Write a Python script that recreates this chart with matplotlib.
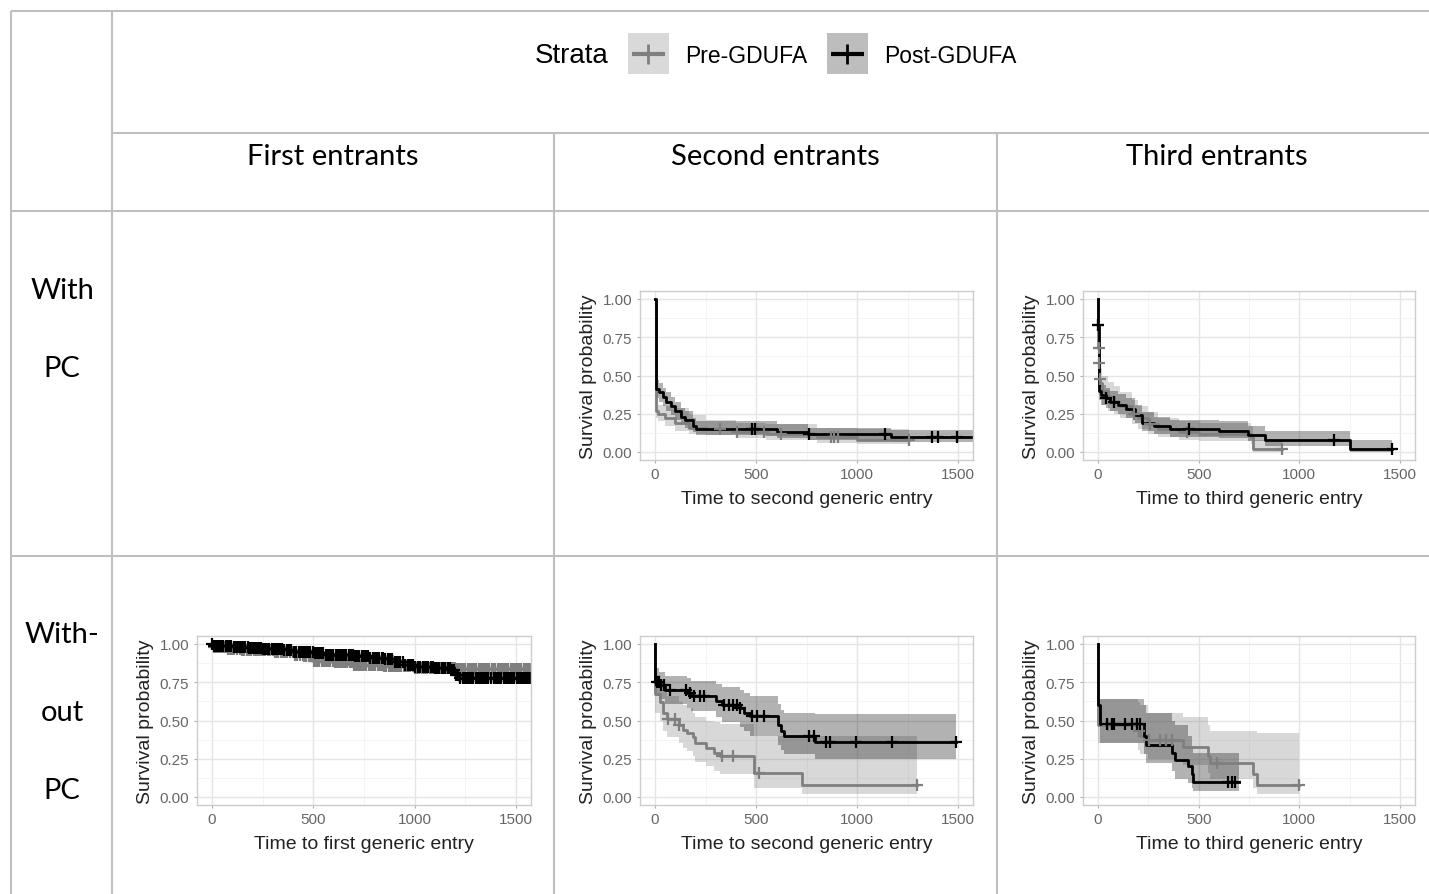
import numpy as np
import matplotlib
matplotlib.use("Agg")
import matplotlib.pyplot as plt
from matplotlib.patches import Rectangle

# ---- data ----
col_titles = ["First entrants", "Second entrants", "Third entrants"]
row_titles = [["With", "PC"], ["With-", "out", "PC"]]
xlabels = ["Time to first generic entry", "Time to second generic entry", "Time to third generic entry"]
strata = ["Pre-GDUFA", "Post-GDUFA"]

# with PC, second entrants
a_post_t = [0, 3, 20, 40, 55, 80, 100, 130, 150, 190, 205, 605, 755, 1170, 1575]
a_post_s = [1.0, 0.41, 0.39, 0.36, 0.33, 0.30, 0.27, 0.23, 0.21, 0.17, 0.15, 0.13, 0.115, 0.10, 0.10]
a_post_lo = [1.0, 0.35, 0.33, 0.30, 0.27, 0.24, 0.21, 0.18, 0.16, 0.13, 0.11, 0.09, 0.08, 0.065, 0.065]
a_post_hi = [1.0, 0.47, 0.45, 0.42, 0.39, 0.36, 0.33, 0.29, 0.27, 0.22, 0.20, 0.18, 0.16, 0.145, 0.145]
a_post_cens = [478, 495, 763, 1138, 1370, 1400, 1495]
a_pre_t = [0, 5, 15, 50, 100, 170, 250, 400, 550, 800, 1000, 1255]
a_pre_s = [1.0, 0.27, 0.25, 0.22, 0.19, 0.16, 0.15, 0.13, 0.12, 0.10, 0.08, 0.08]
a_pre_lo = [1.0, 0.22, 0.20, 0.17, 0.14, 0.12, 0.11, 0.09, 0.08, 0.06, 0.05, 0.05]
a_pre_hi = [1.0, 0.33, 0.31, 0.30, 0.29, 0.24, 0.21, 0.19, 0.18, 0.16, 0.15, 0.15]
a_pre_cens = [320, 405, 540, 625, 870, 885, 905, 1255]

# with PC, third entrants
b_post_t = [0, 1, 3, 15, 40, 60, 100, 140, 185, 220, 280, 360, 600, 745, 830, 1250, 1460]
b_post_s = [1.0, 0.83, 0.40, 0.37, 0.35, 0.33, 0.31, 0.28, 0.24, 0.19, 0.17, 0.15, 0.14, 0.11, 0.08, 0.02, 0.02]
b_post_lo = [1.0, 0.72, 0.34, 0.31, 0.29, 0.27, 0.25, 0.22, 0.19, 0.14, 0.12, 0.10, 0.09, 0.07, 0.04, 0.003, 0.003]
b_post_hi = [1.0, 0.93, 0.47, 0.44, 0.42, 0.40, 0.38, 0.35, 0.31, 0.26, 0.23, 0.21, 0.20, 0.17, 0.14, 0.08, 0.08]
b_post_cens = [2, 42, 78, 450, 1170, 1460]
b_pre_t = [0, 1, 2, 4, 6, 10, 20, 50, 80, 110, 170, 200, 250, 300, 400, 500, 760, 770, 915]
b_pre_s = [1.0, 0.83, 0.68, 0.58, 0.48, 0.45, 0.40, 0.36, 0.33, 0.30, 0.25, 0.22, 0.18, 0.15, 0.13, 0.12, 0.10, 0.02, 0.02]
b_pre_lo = [1.0, 0.72, 0.56, 0.46, 0.37, 0.35, 0.31, 0.27, 0.25, 0.22, 0.18, 0.15, 0.12, 0.10, 0.08, 0.07, 0.05, 0.003, 0.003]
b_pre_hi = [1.0, 0.93, 0.80, 0.70, 0.58, 0.55, 0.50, 0.46, 0.43, 0.39, 0.34, 0.30, 0.26, 0.22, 0.20, 0.19, 0.17, 0.08, 0.08]
b_pre_cens = [1.5, 3, 5, 8, 180, 260, 440, 915]

# without PC, first entrants
c_post_t = [0, 5, 40, 100, 180, 250, 300, 350, 400, 450, 500, 550, 620, 700, 780, 850, 900, 950,
            1000, 1100, 1180, 1200, 1215, 1575]
c_post_s = [1.0, 0.99, 0.985, 0.98, 0.975, 0.97, 0.965, 0.96, 0.95, 0.945, 0.94, 0.93, 0.925, 0.92,
            0.91, 0.90, 0.88, 0.86, 0.85, 0.845, 0.83, 0.80, 0.78, 0.78]
c_post_lo = [1.0, 0.98, 0.975, 0.97, 0.96, 0.955, 0.95, 0.94, 0.93, 0.925, 0.92, 0.91, 0.905, 0.90,
             0.89, 0.875, 0.855, 0.835, 0.825, 0.82, 0.80, 0.77, 0.75, 0.75]
c_post_hi = [1.0, 1.0, 0.995, 0.99, 0.99, 0.985, 0.98, 0.975, 0.97, 0.965, 0.96, 0.95, 0.945, 0.94,
             0.93, 0.925, 0.905, 0.885, 0.875, 0.87, 0.86, 0.83, 0.81, 0.81]
c_post_cens = [2, 11, 20, 31, 41, 48, 55, 67, 78, 86, 96, 107, 118, 124, 131, 142, 152, 165, 177,
               183, 190, 202, 214, 224, 233, 242, 251, 260, 270, 283, 296, 308, 318, 326, 334, 345,
               357, 368, 379, 385, 392, 404, 415, 428, 440, 449, 458, 466, 473, 485, 497, 509, 520,
               528, 536, 549, 561, 570, 580, 589, 598, 611, 622, 632, 641, 650, 660, 674, 688, 697,
               705, 716, 727, 738, 749, 760, 770, 781, 792, 802, 813, 826, 838, 846, 855, 866, 877,
               889, 901, 910, 918, 929, 940, 953, 966, 975, 985, 994, 1004, 1016, 1028, 1039, 1049,
               1057, 1066, 1079, 1091, 1100, 1110, 1122, 1133, 1143, 1152, 1164, 1175, 1186, 1196,
               1205, 1214, 1226, 1238, 1249, 1259, 1268, 1277, 1290, 1302, 1311, 1321, 1333, 1344,
               1353, 1362, 1376, 1389, 1397, 1405, 1416, 1428, 1439, 1450, 1460, 1469, 1481, 1492,
               1504, 1515, 1524, 1533, 1545, 1556, 1564, 1572]
c_pre_t = [0, 5, 80, 150, 300, 400, 450, 500, 600, 700, 850, 1000, 1200, 1575]
c_pre_s = [1.0, 0.98, 0.97, 0.96, 0.95, 0.93, 0.92, 0.89, 0.88, 0.865, 0.855, 0.845, 0.835, 0.835]
c_pre_lo = [1.0, 0.97, 0.955, 0.945, 0.93, 0.91, 0.90, 0.87, 0.86, 0.845, 0.835, 0.82, 0.81, 0.81]
c_pre_hi = [1.0, 0.99, 0.985, 0.975, 0.97, 0.95, 0.94, 0.91, 0.90, 0.885, 0.875, 0.87, 0.86, 0.86]
c_pre_cens = [8, 19, 30, 39, 47, 58, 69, 80, 90, 100, 110, 125, 139, 150, 160, 171, 183, 194, 205,
              216, 226, 235, 244, 253, 262, 275, 288, 299, 309, 318, 327, 339, 350, 361, 371, 385,
              398, 410, 421, 434, 447, 456, 466, 478, 489, 501, 512, 520, 529, 541, 553, 562, 571,
              584, 596, 605, 615, 626, 636, 645, 655, 668, 680, 691, 701, 709, 718, 730, 741, 751,
              762, 774, 786, 796, 806, 818, 829, 840, 850, 861, 871, 883, 895, 905, 914, 925, 935,
              947, 958, 969, 979, 990, 1001, 1011, 1021, 1034, 1046, 1054, 1062, 1074, 1085, 1095,
              1104, 1116, 1128, 1139, 1149, 1158, 1168, 1179, 1190, 1199, 1209, 1220, 1231, 1240,
              1250, 1262, 1273, 1284, 1294, 1305, 1316, 1327, 1337, 1346, 1355, 1368, 1381, 1390,
              1398, 1409, 1420, 1432, 1443, 1452, 1461, 1473, 1485, 1495, 1504, 1516, 1527, 1538,
              1549, 1559, 1568]

# without PC, second entrants
d_post_t = [0, 2, 20, 50, 160, 180, 300, 330, 420, 440, 470, 610, 625, 640, 790, 1490]
d_post_s = [1.0, 0.75, 0.73, 0.70, 0.68, 0.66, 0.63, 0.60, 0.58, 0.55, 0.53, 0.47, 0.43, 0.40, 0.36, 0.36]
d_post_lo = [1.0, 0.66, 0.64, 0.61, 0.58, 0.56, 0.52, 0.49, 0.46, 0.43, 0.40, 0.34, 0.31, 0.28, 0.25, 0.25]
d_post_hi = [1.0, 0.84, 0.82, 0.79, 0.78, 0.76, 0.74, 0.72, 0.70, 0.68, 0.66, 0.61, 0.57, 0.55, 0.54, 0.54]
d_post_cens = [8, 18, 30, 45, 72, 155, 175, 192, 222, 245, 340, 365, 388, 405, 420, 480, 505,
               540, 760, 788, 845, 865, 993, 1175, 1488]
d_pre_t = [0, 1, 25, 40, 60, 120, 140, 160, 190, 200, 250, 290, 320, 490, 730, 1295]
d_pre_s = [1.0, 0.67, 0.62, 0.55, 0.51, 0.47, 0.44, 0.42, 0.39, 0.35, 0.32, 0.29, 0.27, 0.16, 0.08, 0.08]
d_pre_lo = [1.0, 0.55, 0.50, 0.43, 0.39, 0.35, 0.32, 0.30, 0.27, 0.23, 0.20, 0.17, 0.15, 0.06, 0.02, 0.02]
d_pre_hi = [1.0, 0.80, 0.76, 0.70, 0.66, 0.62, 0.60, 0.58, 0.55, 0.52, 0.50, 0.49, 0.48, 0.40, 0.40, 0.40]
d_pre_cens = [63, 100, 120, 330, 388, 513, 1295]

# without PC, third entrants
e_post_t = [0, 2, 8, 12, 230, 240, 370, 380, 445, 465, 470, 700]
e_post_s = [1.0, 0.60, 0.50, 0.48, 0.40, 0.34, 0.29, 0.24, 0.20, 0.15, 0.10, 0.10]
e_post_lo = [1.0, 0.47, 0.37, 0.35, 0.28, 0.22, 0.17, 0.12, 0.09, 0.06, 0.04, 0.04]
e_post_hi = [1.0, 0.74, 0.65, 0.64, 0.60, 0.55, 0.50, 0.47, 0.40, 0.33, 0.29, 0.29]
e_post_cens = [45, 70, 80, 135, 168, 192, 209, 645, 665, 680]
e_pre_t = [0, 1, 200, 210, 250, 420, 545, 555, 770, 790, 1000]
e_pre_s = [1.0, 0.47, 0.43, 0.40, 0.37, 0.33, 0.27, 0.22, 0.15, 0.08, 0.08]
e_pre_lo = [1.0, 0.35, 0.31, 0.28, 0.25, 0.21, 0.16, 0.12, 0.06, 0.02, 0.02]
e_pre_hi = [1.0, 0.64, 0.62, 0.60, 0.55, 0.52, 0.47, 0.43, 0.43, 0.42, 0.42]
e_pre_cens = [50, 195, 205, 255, 310, 340, 370, 590, 1000]

# ---- styling ----
W, H = 1429, 895
PRE_COL, POST_COL = "#7f7f7f", "black"
LINE_COL = "#bfbfbf"
TABLE_FONT = ["Lato", "DejaVu Sans"]
PLOT_FONT = ["Liberation Sans", "DejaVu Sans"]

fig = plt.figure(figsize=(W / 100, H / 100), dpi=100)

# table frame + text drawn in pixel coordinates
bg = fig.add_axes([0, 0, 1, 1])
bg.set_xlim(0, W)
bg.set_ylim(H, 0)
bg.axis("off")
for y, x0 in [(12, 11), (134, 112), (212, 11), (557, 11)]:
    bg.plot([x0, W], [y, y], color=LINE_COL, lw=1.5, solid_capstyle="butt")
for x, y0 in [(11, 12), (112, 12), (554, 134), (997, 134)]:
    bg.plot([x, x], [y0, H], color=LINE_COL, lw=1.5, solid_capstyle="butt")

for cx, txt in zip([333, 775, 1217], col_titles):
    bg.text(cx, 157, txt, ha="center", va="center", fontsize=21, family=TABLE_FONT)
for ys, words in zip([[291, 369], [635, 713, 791]], row_titles):
    for y, w in zip(ys, words):
        bg.text(62, y, w, ha="center", va="center", fontsize=21, family=TABLE_FONT)

# legend
bg.text(572, 56, "Strata", ha="center", va="center", fontsize=20, family=PLOT_FONT)
for bx, col, face, lab in [(628, PRE_COL, "#d9d9d9", strata[0]), (827, POST_COL, "#bdbdbd", strata[1])]:
    bg.add_patch(Rectangle((bx, 34), 41, 41, facecolor=face, edgecolor="none"))
    bg.plot([bx + 4, bx + 37], [54.5, 54.5], color=col, lw=3, solid_capstyle="butt")
    bg.plot([bx + 20.5], [54.5], marker="+", ms=14, mew=2, color=col)
    bg.text(bx + 57, 56, lab, ha="left", va="center", fontsize=16.5, family=PLOT_FONT)


def km_panel(x0px, x1500px, y1px, y0px, curves, xlabel):
    sx = (x1500px - x0px) / 1500.0
    sy = (y0px - y1px)
    left, right = x0px - 75 * sx, x1500px + 75 * sx
    top, bottom = y1px - 0.05 * sy, y0px + 0.05 * sy
    ax = fig.add_axes([left / W, 1 - bottom / H, (right - left) / W, (bottom - top) / H])
    ax.set_xlim(-75, 1575)
    ax.set_ylim(-0.05, 1.05)
    ax.set_xticks([0, 500, 1000, 1500])
    ax.set_yticks([0, 0.25, 0.5, 0.75, 1.0])
    ax.set_yticklabels(["0.00", "0.25", "0.50", "0.75", "1.00"])
    ax.set_xticks([250, 750, 1250], minor=True)
    ax.set_yticks([0.125, 0.375, 0.625, 0.875], minor=True)
    ax.grid(True, which="major", color="#e5e5e5", lw=1.0)
    ax.grid(True, which="minor", color="#f2f2f2", lw=0.6)
    ax.set_axisbelow(True)
    for sp in ax.spines.values():
        sp.set_color("#cccccc")
        sp.set_linewidth(1.0)
    ax.tick_params(which="major", length=2.5, width=0.8, color="#b0b0b0", labelsize=11,
                   labelcolor="#666666", pad=3, labelfontfamily="Liberation Sans")
    ax.tick_params(which="minor", length=0)
    ax.set_xlabel(xlabel, fontsize=14, family=PLOT_FONT, labelpad=6, color="#222222")
    ax.set_ylabel("Survival probability", fontsize=14, family=PLOT_FONT, labelpad=4, color="#222222")

    # confidence bands first, then steps, then censor marks
    for t, s, lo, hi, cens, col in curves:
        ax.fill_between(t, lo, hi, step="post", color=col, alpha=0.3, lw=0)
    for t, s, lo, hi, cens, col in curves:
        ax.step(t, s, where="post", color=col, lw=2.0)
    for t, s, lo, hi, cens, col in curves:
        idx = np.searchsorted(t, cens, side="right") - 1
        ax.plot(cens, np.asarray(s)[idx], ls="none", marker="+", ms=8, mew=1.6, color=col)
    return ax


km_panel(655, 958, 300, 453,
         [(a_pre_t, a_pre_s, a_pre_lo, a_pre_hi, a_pre_cens, PRE_COL),
          (a_post_t, a_post_s, a_post_lo, a_post_hi, a_post_cens, POST_COL)], xlabels[1])
km_panel(1098, 1400, 300, 453,
         [(b_pre_t, b_pre_s, b_pre_lo, b_pre_hi, b_pre_cens, PRE_COL),
          (b_post_t, b_post_s, b_post_lo, b_post_hi, b_post_cens, POST_COL)], xlabels[2])
km_panel(212, 516, 645, 798,
         [(c_pre_t, c_pre_s, c_pre_lo, c_pre_hi, c_pre_cens, PRE_COL),
          (c_post_t, c_post_s, c_post_lo, c_post_hi, c_post_cens, POST_COL)], xlabels[0])
km_panel(655, 958, 645, 798,
         [(d_pre_t, d_pre_s, d_pre_lo, d_pre_hi, d_pre_cens, PRE_COL),
          (d_post_t, d_post_s, d_post_lo, d_post_hi, d_post_cens, POST_COL)], xlabels[1])
km_panel(1098, 1400, 645, 798,
         [(e_pre_t, e_pre_s, e_pre_lo, e_pre_hi, e_pre_cens, PRE_COL),
          (e_post_t, e_post_s, e_post_lo, e_post_hi, e_post_cens, POST_COL)], xlabels[2])

fig.savefig("out.png", dpi=100, facecolor="white")
